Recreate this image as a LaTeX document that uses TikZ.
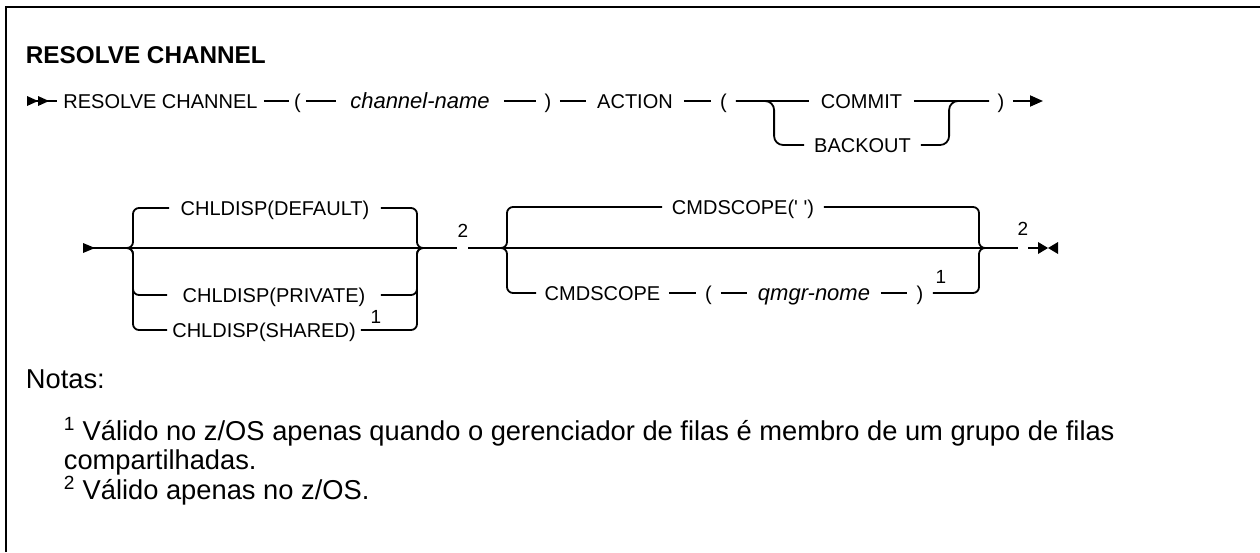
\documentclass[tikz,border=0pt]{standalone}
\usepackage{fontspec}
\setmainfont{Liberation Sans}[Ligatures=TeXOff]
\usetikzlibrary{arrows.meta}
\begin{document}
\begin{tikzpicture}[x=1pt,y=-1pt,line width=1.8pt,
  lbl/.style={inner sep=0pt,font=\fontsize{20}{22}\selectfont,text height=14.3pt,text depth=0pt},
  ital/.style={lbl,font=\fontsize{22}{22}\selectfont\itshape,text height=15.5pt},
  sup/.style={inner sep=0pt,font=\fontsize{19}{20}\selectfont},
  rc/.style={rounded corners=6pt},
  note/.style={anchor=base west,inner sep=0pt,font=\fontsize{27.3}{30}\selectfont},
  tip/.style={-{Triangle[length=13pt,width=11pt]}}]
\useasboundingbox (0,0) rectangle (1260,552);
\fill[white] (0,0) rectangle (1260,552);
% frame
\draw[line width=2.2pt] (6,552) -- (6,7) -- (1260,7);
% title
\node[anchor=base west,inner sep=0pt,font=\fontsize{24.3}{26}\selectfont\bfseries] (title) at (25,63) {RESOLVE CHANNEL};
% ---------- row 1
\coordinate (s1) at (27,101);
\node[lbl,minimum width=205pt] (rsv) at (160.5,101) {RESOLVE CHANNEL};
\node[lbl,minimum width=15pt] (lp1) at (297.5,101) {(};
\node[ital,minimum width=166pt] (chn) at (420,101) {channel-name};
\node[lbl,minimum width=22pt] (rp1) at (548,101) {)};
\node[lbl,minimum width=96pt] (act) at (635,101) {ACTION};
\node[lbl,minimum width=23pt] (lp2) at (723.5,101) {(};
\node[lbl,minimum width=103pt] (cmt) at (861.5,101) {COMMIT};
\node[lbl,minimum width=115pt] (bko) at (862.5,145) {BACKOUT};
\node[lbl,minimum width=22pt] (rp2) at (1001,101) {)};
\coordinate (e1) at (1043,101);
\fill (27,96) -- (38,101) -- (27,106) -- cycle;
\fill (38,96) -- (49,101) -- (38,106) -- cycle;
\draw (s1) -- (rsv.west);
\draw (rsv.east) -- (lp1.west);
\draw (lp1.east) -- (chn.west);
\draw (chn.east) -- (rp1.west);
\draw (rp1.east) -- (act.west);
\draw (act.east) -- (lp2.west);
\draw (lp2.east) -- (cmt.west);
\draw (cmt.east) -- (rp2.west);
\draw[rounded corners=9pt] (lp2.east) -| ([xshift=-30pt]bko.west) -- (bko.west);
\draw[rounded corners=9pt] (bko.east) -| ([xshift=-40pt]rp2.west) -- (rp2.west);
\draw[tip] (rp2.east) -- (e1);
% ---------- row 2
\coordinate (s2) at (83,248);
\fill (83,243) -- (95,248) -- (83,253) -- cycle;
\coordinate (b1) at (126,248);
\coordinate (bl) at (133,248);
\coordinate (br) at (417,248);
\coordinate (b2) at (424,248);
\node[lbl,minimum width=210pt] (dflt) at (275,208) {CHLDISP(DEFAULT)};
\node[lbl,minimum width=212pt] (priv) at (274,295) {CHLDISP(PRIVATE)};
\node[lbl,minimum width=192pt] (shrd) at (264,330) {CHLDISP(SHARED)};
\node[sup] (f1a) at (376,317) {1};
\coordinate (g1l) at (457,248);
\coordinate (g1r) at (468,248);
\node[sup] (f2a) at (463,231) {2};
\draw (s2) -- (g1l);
\draw[rc] (b1) -- (bl) |- (dflt.west);
\draw[rc] (b1) -- (bl) |- (priv.west);
\draw[rc] (b1) -- (bl) |- (shrd.west);
\draw[rc] (dflt.east) -| (br) -- (b2);
\draw[rc] (priv.east) -| (br) -- (b2);
\draw[rc] (shrd.east) -| (br) -- (b2);
% second group
\coordinate (c1) at (500,248);
\coordinate (cl) at (507,248);
\coordinate (cr) at (979,248);
\coordinate (c2) at (986,248);
\node[lbl,minimum width=160pt] (cms) at (743,207) {CMDSCOPE(' ')};
\node[lbl,minimum width=131pt] (cmd) at (602.5,293) {CMDSCOPE};
\node[lbl,minimum width=23pt] (lp3) at (708.5,293) {(};
\node[ital,minimum width=132pt] (qmg) at (814,293) {qmgr-nome};
\node[lbl,minimum width=24pt] (rp3) at (920,293) {)};
\node[sup] (f1b) at (941,277) {1};
\coordinate (g2l) at (1018,248);
\coordinate (g2r) at (1028,248);
\node[sup] (f2b) at (1023,229) {2};
\coordinate (e2) at (1038,248);
\draw (g1r) -- (g2l);
\draw[rc] (c1) -- (cl) |- (cms.west);
\draw[rc] (cms.east) -| (cr) -- (c2);
\draw[rc] (c1) -- (cl) |- (cmd.west);
\draw (cmd.east) -- (lp3.west);
\draw (lp3.east) -- (qmg.west);
\draw (qmg.east) -- (rp3.west);
\draw[rc] (rp3.east) -| (cr) -- (c2);
\draw (g2r) -- (e2);
\fill (1038,242) -- (1048,248) -- (1038,254) -- cycle;
\fill (1058,242) -- (1048,248) -- (1058,254) -- cycle;
% ---------- notes
\node[note] (notas) at (25,388) {Notas:};
\node[note] (n1) at (63,440) {\textsuperscript{1} Válido no z/OS apenas quando o gerenciador de filas é membro de um grupo de filas};
\node[note] (n1b) at (63,469) {compartilhadas.};
\node[note] (n2) at (63,499) {\textsuperscript{2} Válido apenas no z/OS.};
\end{tikzpicture}
\end{document}
